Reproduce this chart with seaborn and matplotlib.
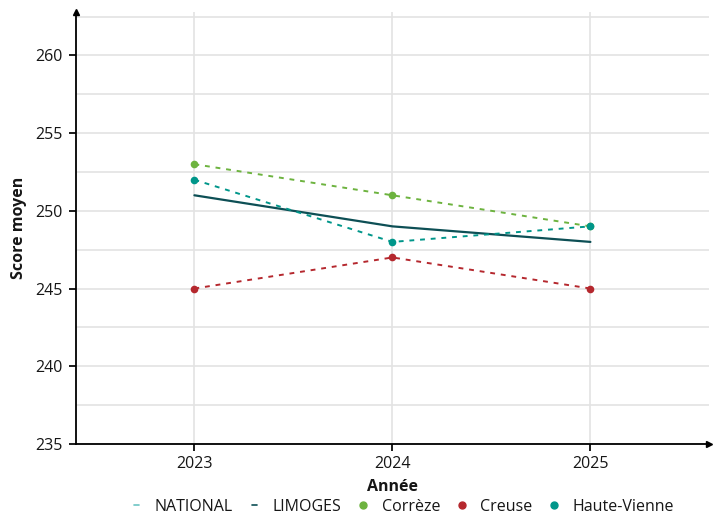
import pandas as pd
import seaborn as sns
import matplotlib.pyplot as plt
from matplotlib.lines import Line2D

years = [2023, 2024, 2025]
limoges = [251, 249, 248]
correze = [253, 251, 249]
creuse = [245, 247, 245]
haute_vienne = [252, 248, 249]

colors = {'NATIONAL': '#6cc5c3', 'LIMOGES': '#0d4f55', 'Corrèze': '#6db33f',
          'Creuse': '#b5282e', 'Haute-Vienne': '#00968a'}


def main():
    sns.set_theme(style='white')
    plt.rcParams['font.family'] = ['Open Sans', 'DejaVu Sans']
    plt.rcParams['text.color'] = '#161616'
    plt.rcParams['axes.labelcolor'] = '#161616'
    plt.rcParams['xtick.color'] = '#161616'
    plt.rcParams['ytick.color'] = '#161616'

    df = pd.DataFrame({'Année': years * 3,
                       'Score': correze + creuse + haute_vienne,
                       'Zone': ['Corrèze'] * 3 + ['Creuse'] * 3 + ['Haute-Vienne'] * 3})

    fig, ax = plt.subplots(figsize=(7.2, 5.18), dpi=100)
    fig.subplots_adjust(left=0.105, right=0.985, top=0.977, bottom=0.143)

    ax.set_yticks([235, 240, 245, 250, 255, 260])
    ax.set_yticks([237.5, 242.5, 247.5, 252.5, 257.5, 262.5], minor=True)
    ax.grid(True, which='both', axis='y', color='#e3e3e3', lw=1.2)
    ax.grid(True, which='major', axis='x', color='#e3e3e3', lw=1.2)
    ax.set_axisbelow(True)

    sns.lineplot(x=years, y=limoges, color=colors['LIMOGES'], lw=1.6, ax=ax)
    for zone in ['Corrèze', 'Creuse', 'Haute-Vienne']:
        sub = df[df['Zone'] == zone]
        sns.lineplot(data=sub, x='Année', y='Score', color=colors[zone], lw=1.4,
                     linestyle=(0, (2.5, 3)), marker='o', markersize=5.5,
                     markeredgewidth=0, ax=ax)

    ax.set_xlim(2022.4, 2025.6)
    ax.set_ylim(235, 262.8)
    ax.set_xticks(years)
    ax.set_xticklabels([str(y) for y in years])
    ax.tick_params(axis='both', labelsize=11.5, length=5, color='black', direction='out',
                   left=True, bottom=True, which='major', pad=4)
    ax.tick_params(axis='both', which='minor', length=0)
    for s in ['top', 'right']:
        ax.spines[s].set_visible(False)
    for s in ['left', 'bottom']:
        ax.spines[s].set_color('black')
        ax.spines[s].set_linewidth(1.3)
    ax.plot(1, 0, '>', color='black', markersize=5, transform=ax.transAxes, clip_on=False)
    ax.plot(0, 1, '^', color='black', markersize=5, transform=ax.transAxes, clip_on=False)

    ax.set_xlabel('Année', fontsize=11.5, fontweight='bold', labelpad=5)
    ax.set_ylabel('Score moyen', fontsize=11.5, fontweight='bold', labelpad=6)

    handles = [
        Line2D([], [], color=colors['NATIONAL'], lw=1.2),
        Line2D([], [], color=colors['LIMOGES'], lw=1.2),
        Line2D([], [], color=colors['Corrèze'], lw=0, marker='o', markersize=5),
        Line2D([], [], color=colors['Creuse'], lw=0, marker='o', markersize=5),
        Line2D([], [], color=colors['Haute-Vienne'], lw=0, marker='o', markersize=5),
    ]
    labels = ['NATIONAL', 'LIMOGES', 'Corrèze', 'Creuse', 'Haute-Vienne']
    fig.legend(handles, labels, loc='lower center', bbox_to_anchor=(0.561, -0.022),
               ncol=5, frameon=False, fontsize=11.5, handlelength=0.3,
               handletextpad=1.0, columnspacing=1.2)

    plt.savefig('out.png', dpi=100)


if __name__ == "__main__":
    main()
